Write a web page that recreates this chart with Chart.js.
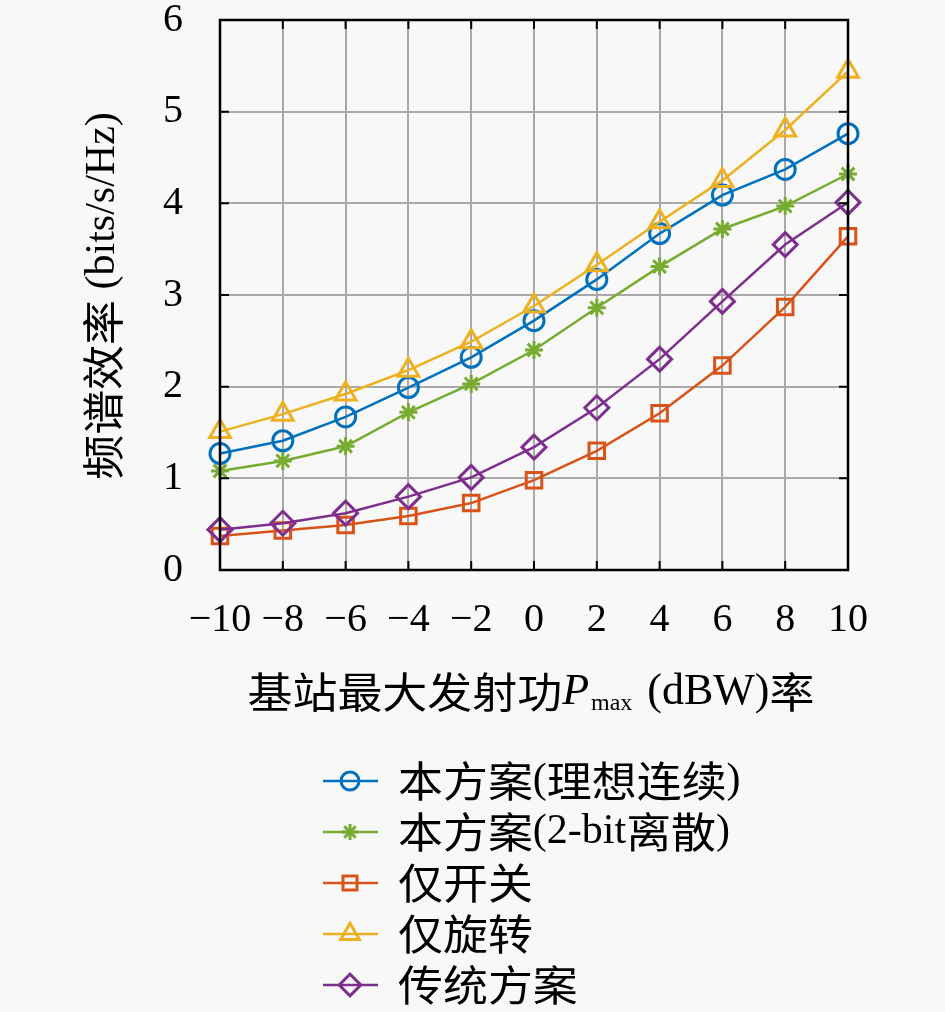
<!DOCTYPE html>
<html>
<head>
<meta charset="utf-8">
<script src="https://cdn.jsdelivr.net/npm/chart.js@4.4.1/dist/chart.umd.min.js"></script>
<style>
  html, body { margin: 0; padding: 0; background: #f8f8f8; }
  #wrap { width: 945px; height: 1012px; position: relative; }
</style>
</head>
<body>
<div id="wrap"><canvas id="myChart"></canvas></div>
<script>
// x values: base station max transmit power (dBW)
const powerDbw = [-10, -8, -6, -4, -2, 0, 2, 4, 6, 8, 10];
const yTicks = [0, 1, 2, 3, 4, 5, 6];

// spectral efficiency (bits/s/Hz)
const idealContinuous = [1.27, 1.41, 1.67, 1.99, 2.32, 2.72, 3.17, 3.67, 4.09, 4.37, 4.76];
const discrete2bit   = [1.08, 1.19, 1.35, 1.72, 2.03, 2.40, 2.86, 3.31, 3.72, 3.97, 4.32];
const switchOnly     = [0.37, 0.43, 0.49, 0.59, 0.73, 0.98, 1.30, 1.71, 2.23, 2.87, 3.64];
const rotateOnly     = [1.51, 1.70, 1.92, 2.18, 2.49, 2.88, 3.33, 3.80, 4.25, 4.80, 5.44];
const traditional    = [0.44, 0.51, 0.62, 0.80, 1.01, 1.34, 1.77, 2.30, 2.93, 3.55, 4.01];

const seriesLabels = ['本方案(理想连续)', '本方案(2-bit离散)', '仅开关', '仅旋转', '传统方案'];
const seriesValues = [idealContinuous, discrete2bit, switchOnly, rotateOnly, traditional];
const seriesColors = ['#0072BD', '#77AC30', '#D95319', '#EDB120', '#7E2F8E'];
const seriesMarkers = ['circle', 'star', 'rect', 'triangle', 'rectRot'];
const markerSizes = [10, 9, 11, 12, 12];

const LATIN = '"Liberation Serif", "DejaVu Serif", serif';
const CJK = '"Noto Sans CJK SC", sans-serif';
const CJK_SX = 1.07;

const isCjk = ch => /[\u3400-\u9fff]/.test(ch);

// split a string into runs of CJK / latin text
function splitRuns(str, size) {
  const runs = [];
  for (const ch of str) {
    const cjk = isCjk(ch);
    const last = runs[runs.length - 1];
    if (last && last.cjk === cjk) last.t += ch;
    else runs.push({ t: ch, cjk: cjk, size: size, dy: 0 });
  }
  return runs;
}

function setFont(ctx, r) {
  ctx.font = (r.italic ? 'italic ' : '') + r.size + 'px ' + (r.cjk ? CJK : LATIN);
}

function runWidth(ctx, r) {
  setFont(ctx, r);
  return ctx.measureText(r.t).width * (r.cjk ? CJK_SX : 1) + (r.gap || 0);
}

function drawRuns(ctx, runs, x, y, align) {
  let total = 0;
  runs.forEach(r => { total += runWidth(ctx, r); });
  let cx = align === 'center' ? x - total / 2 : x;
  ctx.textBaseline = 'middle';
  ctx.textAlign = 'left';
  ctx.fillStyle = '#000';
  runs.forEach(r => {
    const w = runWidth(ctx, r);
    setFont(ctx, r);
    ctx.save();
    ctx.translate(cx, y + r.dy);
    if (r.cjk) ctx.scale(CJK_SX, 1);
    ctx.fillText(r.t, 0, 0);
    ctx.restore();
    cx += w;
  });
}

const frameAndText = {
  id: 'frameAndText',
  beforeDraw(chart) {
    const ctx = chart.ctx;
    ctx.save();
    ctx.fillStyle = '#f8f8f8';
    ctx.fillRect(0, 0, chart.width, chart.height);
    ctx.restore();
  },
  afterDraw(chart) {
    const ctx = chart.ctx;
    const a = chart.chartArea;
    const xs = chart.scales.x, ys = chart.scales.y;
    ctx.save();

    // inward ticks on all four sides
    ctx.strokeStyle = '#000';
    ctx.lineWidth = 2;
    const tl = 9;
    ctx.beginPath();
    powerDbw.forEach(v => {
      const px = xs.getPixelForValue(v);
      ctx.moveTo(px, a.bottom); ctx.lineTo(px, a.bottom - tl);
      ctx.moveTo(px, a.top); ctx.lineTo(px, a.top + tl);
    });
    yTicks.forEach(v => {
      const py = ys.getPixelForValue(v);
      ctx.moveTo(a.left, py); ctx.lineTo(a.left + tl, py);
      ctx.moveTo(a.right, py); ctx.lineTo(a.right - tl, py);
    });
    ctx.stroke();

    // box
    ctx.lineWidth = 2.5;
    ctx.strokeRect(a.left, a.top, a.right - a.left, a.bottom - a.top);

    // y axis title (rotated)
    ctx.save();
    ctx.translate(103, 296);
    ctx.rotate(-Math.PI / 2);
    drawRuns(ctx, splitRuns('频谱效率 (bits/s/Hz)', 42), 0, 0, 'center');
    ctx.restore();

    // x axis title with subscript
    const xRuns = splitRuns('基站最大发射功', 42)
      .concat([{ t: 'P', cjk: false, size: 44, dy: 0, italic: true, gap: 2 },
               { t: 'max', cjk: false, size: 24, dy: 12, gap: 4 },
               { t: ' (dBW)', cjk: false, size: 44, dy: 0 },
               { t: '率', cjk: true, size: 42, dy: 0 }]);
    drawRuns(ctx, xRuns, (a.left + a.right) / 2 - 3, 692, 'center');

    // legend
    const rowY0 = 781, rowGap = 51;
    chart.data.datasets.forEach((ds, i) => {
      const y = rowY0 + i * rowGap;
      ctx.strokeStyle = ds.borderColor;
      ctx.lineWidth = ds.borderWidth;
      ctx.beginPath();
      ctx.moveTo(323, y); ctx.lineTo(378, y);
      ctx.stroke();
      ctx.fillStyle = 'rgba(0,0,0,0)';
      ctx.lineWidth = ds.pointBorderWidth;
      Chart.helpers.drawPoint(ctx, {
        pointStyle: ds.pointStyle, radius: ds.pointRadius * 0.9,
        borderWidth: ds.pointBorderWidth, rotation: 0
      }, 350, y);
      drawRuns(ctx, splitRuns(ds.label, 42), 398, y, 'left');
    });

    ctx.restore();
  }
};

document.addEventListener('DOMContentLoaded', () => {
  const canvas = document.getElementById('myChart');

  const datasets = seriesLabels.map((label, i) => ({
    label: label,
    data: powerDbw.map((x, j) => ({ x: x, y: seriesValues[i][j] })),
    borderColor: seriesColors[i],
    backgroundColor: 'rgba(0,0,0,0)',
    pointBorderColor: seriesColors[i],
    pointBackgroundColor: 'rgba(0,0,0,0)',
    pointStyle: seriesMarkers[i],
    pointRadius: markerSizes[i],
    pointBorderWidth: 3,
    borderWidth: 2.5,
    tension: 0,
    clip: false,
    order: seriesLabels.length - i
  }));

  new Chart(canvas, {
    type: 'line',
    data: { datasets: datasets },
    options: {
      responsive: true,
      maintainAspectRatio: false,
      animation: false,
      layout: { padding: { left: 0, top: 20, right: 97, bottom: 0 } },
      plugins: {
        legend: { display: false },
        title: { display: false },
        tooltip: { enabled: false }
      },
      scales: {
        x: {
          type: 'linear',
          min: -10,
          max: 10,
          afterFit: s => { s.height = 442; s.paddingLeft = 0; s.paddingRight = 0; },
          afterBuildTicks: s => { s.ticks = powerDbw.map(v => ({ value: v })); },
          grid: { color: '#a9a9a9', lineWidth: 2, drawTicks: false },
          border: { display: false },
          ticks: {
            color: '#000',
            padding: 26,
            maxRotation: 0,
            autoSkip: false,
            font: { family: LATIN, size: 40 },
            callback: v => (v < 0 ? '\u2212' + Math.abs(v) : String(v))
          }
        },
        y: {
          min: 0,
          max: 6,
          afterFit: s => { s.width = 220; s.paddingTop = 0; s.paddingBottom = 0; },
          afterBuildTicks: s => { s.ticks = yTicks.map(v => ({ value: v })); },
          grid: { color: '#a9a9a9', lineWidth: 2, drawTicks: false },
          border: { display: false },
          ticks: {
            color: '#000',
            padding: 37,
            font: { family: LATIN, size: 40 },
            callback: v => String(v)
          }
        }
      }
    },
    plugins: [frameAndText]
  });
});
</script>
</body>
</html>
